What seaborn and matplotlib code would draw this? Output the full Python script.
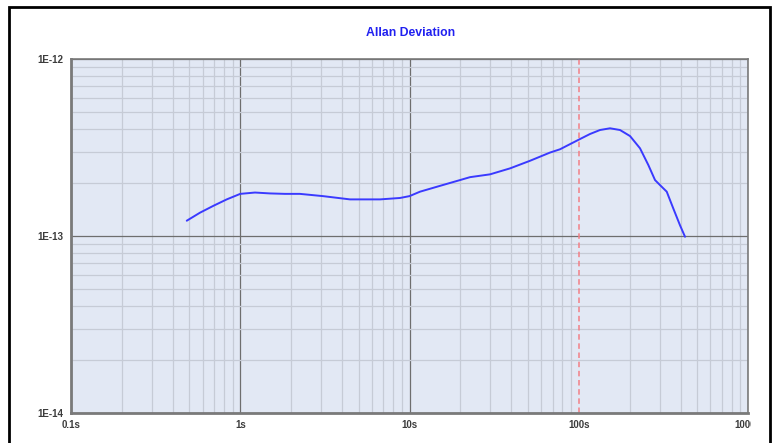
import matplotlib
matplotlib.use("Agg")
import matplotlib.pyplot as plt
import matplotlib.ticker as mticker
from matplotlib.patches import Rectangle
from matplotlib.transforms import Bbox
import seaborn as sns
import pandas as pd
import numpy as np

# Averaging time (s) and Allan deviation
tau = [0.483, 0.578, 0.693, 0.832, 1.0, 1.222, 1.499, 1.838, 2.25, 3.08,
       4.45, 6.7, 8.79, 10.0, 11.54, 15.14, 19.88, 22.78, 29.9, 39.25,
       51.5, 67.6, 77.5, 101.7, 116.6, 133.5, 153.0, 175.3, 200.9, 230.1,
       257.6, 282.3, 302.0, 331.0, 362.0, 396.5, 424.5]
adev = [1.22e-13, 1.354e-13, 1.48e-13, 1.61e-13, 1.73e-13, 1.76e-13, 1.74e-13,
        1.73e-13, 1.73e-13, 1.68e-13,
        1.61e-13, 1.61e-13, 1.64e-13, 1.68e-13, 1.78e-13, 1.92e-13, 2.07e-13,
        2.15e-13, 2.23e-13, 2.41e-13,
        2.66e-13, 2.96e-13, 3.09e-13, 3.53e-13, 3.77e-13, 3.97e-13, 4.06e-13,
        3.97e-13, 3.67e-13, 3.13e-13,
        2.52e-13, 2.07e-13, 1.94e-13, 1.78e-13, 1.43e-13, 1.15e-13, 0.99e-13]

x_ticks = [0.1, 1, 10, 100, 1000]
x_labels = ["0.1s", "1s", "10s", "100s", "1000s"]
y_ticks = [1e-14, 1e-13, 1e-12]
y_labels = ["1E-14", "1E-13", "1E-12"]
marker_tau = 100.0

df = pd.DataFrame({"tau": tau, "adev": adev})

sns.set_theme(style="white")
plt.rcParams["font.family"] = ["Liberation Sans", "DejaVu Sans"]

fig = plt.figure(figsize=(7.75, 4.43), dpi=100)
ax = fig.add_axes([71 / 775, 30 / 443, 677 / 775, 354 / 443])
ax.set_facecolor("#E2E8F4")

ax.set_xscale("log")
ax.set_yscale("log")
ax.set_xlim(0.1, 1000)
ax.set_ylim(1e-14, 1e-12)

ax.xaxis.set_major_locator(mticker.FixedLocator(x_ticks))
ax.xaxis.set_major_formatter(mticker.FixedFormatter(x_labels))
ax.xaxis.set_minor_locator(mticker.LogLocator(base=10, subs=np.arange(2, 10)))
ax.xaxis.set_minor_formatter(mticker.NullFormatter())
ax.yaxis.set_major_locator(mticker.FixedLocator(y_ticks))
ax.yaxis.set_major_formatter(mticker.FixedFormatter(y_labels))
ax.yaxis.set_minor_locator(mticker.LogLocator(base=10, subs=np.arange(2, 10)))
ax.yaxis.set_minor_formatter(mticker.NullFormatter())

ax.grid(True, which="major", color="#6E6E6E", linewidth=0.9)
ax.grid(True, which="minor", color="#C6CBD6", linewidth=0.9)
ax.set_axisbelow(True)

ax.tick_params(which="both", length=0)
ax.tick_params(axis="x", pad=5, labelsize=7, labelcolor="#3C3C3C")
ax.tick_params(axis="y", pad=5.5, labelsize=7, labelcolor="#3C3C3C")
for lab in ax.get_xticklabels() + ax.get_yticklabels():
    lab.set_fontweight("bold")

for side in ["left", "bottom"]:
    ax.spines[side].set_color("#7A7A7A")
    ax.spines[side].set_linewidth(2.0)
for side in ["top", "right"]:
    ax.spines[side].set_color("#7A7A7A")
    ax.spines[side].set_linewidth(1.2)

# the marker line replaces the decade gridline at its position
for tick, val in zip(ax.xaxis.get_major_ticks(), x_ticks):
    if val == marker_tau:
        tick.gridline.set_visible(False)
ax.axvline(marker_tau, color="#F27F86", linestyle=(0, (3.6, 2.4)),
           linewidth=1.1)

sns.lineplot(data=df, x="tau", y="adev", ax=ax, color="#3A3AFF",
             linewidth=1.4, legend=False)
ax.set_xlabel("")
ax.set_ylabel("")

fig.text(411 / 775, 1 - 33 / 443, "Allan Deviation", ha="center", va="center",
         fontsize=8.8, fontweight="bold", color="#2020F0")

# outer frame of the chart panel
fig.patches.append(Rectangle((8.5 / 775, -0.05), 761.5 / 775, 1 - 7 / 443 + 0.05,
                             transform=fig.transFigure, fill=False,
                             edgecolor="black", linewidth=2.0, zorder=5))

fig.canvas.draw()
clip = Bbox.from_extents(0, 0, 751, 443)
for lab in ax.get_xticklabels():
    lab.set_clip_on(True)
    lab.set_clip_box(clip)

fig.savefig("out.png", dpi=100)
